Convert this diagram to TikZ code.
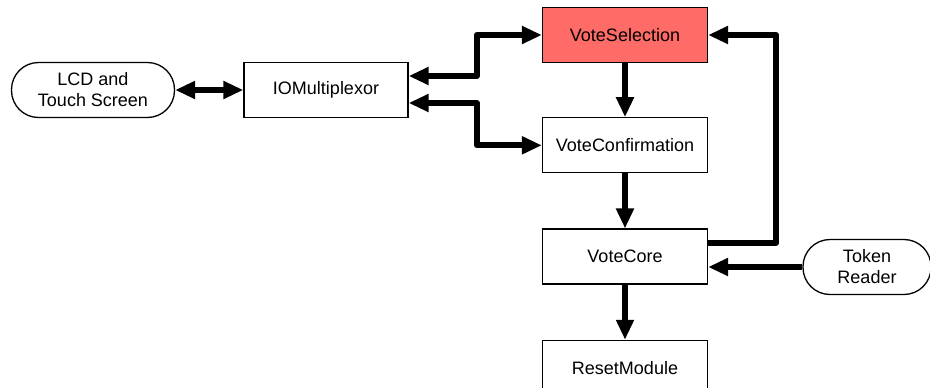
\documentclass[tikz,border=0pt]{standalone}
\usepackage{fontspec}
\setmainfont{Liberation Sans}
\usetikzlibrary{arrows.meta,positioning}
\definecolor{selred}{HTML}{FF6B66}

\begin{document}
\begin{tikzpicture}[x=1pt,y=-1pt]
  \tikzset{module/.style = {draw,line width=1.3pt,rectangle,minimum width=165pt,minimum height=55pt,
                            inner sep=0pt,font=\fontsize{18}{21}\selectfont},
           device/.style = {module,rounded corners=27pt,align=center},
           flow/.style = {line width=6pt,line join=round,
                          arrows={-Triangle[length=20pt,width=17pt]}},
           both/.style = {flow,arrows={Triangle[length=20pt,width=17pt]-Triangle[length=20pt,width=17pt]}}}
  \useasboundingbox (0,0) rectangle (930,388);
  % modules
  \node[device,minimum width=163pt] (lcd) at (93,90) {LCD and\\Touch Screen};
  \node[module,minimum width=164pt] (iom) at (326,90) {IOMultiplexor};
  \node[module,fill=selred] (vs) at (625,35) {VoteSelection};
  \node[module,below=54pt of vs] (vc) {VoteConfirmation};
  \node[module,below=55pt of vc] (core) {VoteCore};
  \node[module,below=55pt of core] (reset) {ResetModule};
  \node[device,minimum width=128pt] (token) at (867,267) {Token\\Reader};
  % connections
  \draw[both] (lcd) -- (iom);
  \draw[both] ([yshift=14pt]iom.east) -- ++(68pt,0) |- (vs.west);
  \draw[both] ([yshift=-13pt]iom.east) -- ++(68pt,0) |- (vc.west);
  \draw[flow] (vs) -- (vc);
  \draw[flow] (vc) -- (core);
  \draw[flow] (core) -- (reset);
  \draw[flow] ([yshift=14pt]core.east) -- ++(68pt,0) |- (vs.east);
  \draw[flow] (token.west) -- (token.west -| core.east);
\end{tikzpicture}
\end{document}
